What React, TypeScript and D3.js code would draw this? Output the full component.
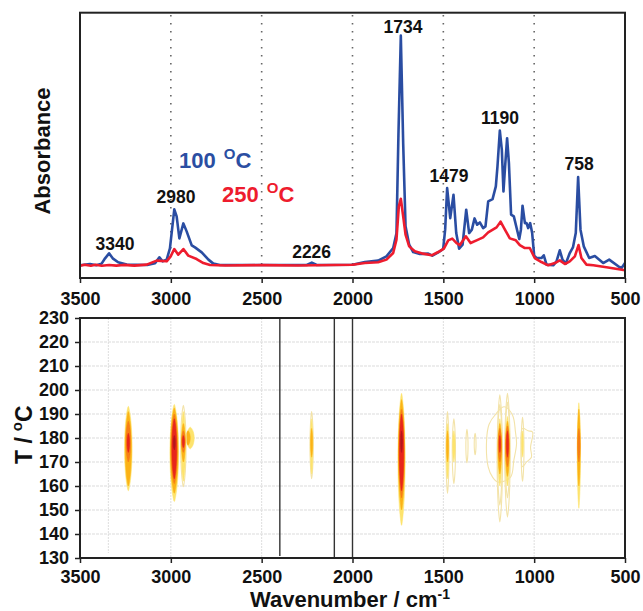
import React, { useEffect, useRef } from "react";
import * as d3 from "d3";

// spectra: [wavenumber, absorbance above baseline]
const spectrum100: [number, number][] = [
  [3500, 0], [3445, 0.013], [3410, 0], [3381, 0.017], [3362, 0.07], [3340, 0.12], [3320, 0.07], [3290, 0.03],
  [3243, 0.007], [3130, 0.003], [3087, 0.02], [3063, 0.08], [3045, 0.04], [3023, 0.055], [3005, 0.17], [2981, 0.56],
  [2968, 0.49], [2953, 0.27], [2931, 0.42], [2913, 0.34], [2885, 0.2], [2867, 0.18], [2830, 0.13], [2793, 0.057],
  [2766, 0.017], [2730, 0.003], [2252, 0.003], [2224, 0.027], [2197, 0.003], [2000, 0.005], [1932, 0.033],
  [1859, 0.047], [1813, 0.09], [1776, 0.173], [1758, 0.32], [1747, 1.32], [1734, 2.3], [1721, 1.22], [1708, 0.39],
  [1688, 0.207], [1666, 0.133], [1629, 0.113], [1583, 0.117], [1560, 0.097], [1528, 0.13], [1501, 0.163],
  [1490, 0.357], [1479, 0.773], [1462, 0.473], [1444, 0.707], [1429, 0.323], [1413, 0.167], [1394, 0.207],
  [1374, 0.557], [1358, 0.323], [1343, 0.357], [1328, 0.47], [1314, 0.407], [1299, 0.43], [1281, 0.373],
  [1268, 0.39], [1253, 0.64], [1229, 0.663], [1211, 0.79], [1202, 0.99], [1189, 1.35], [1178, 1.157], [1169, 0.74],
  [1160, 0.99], [1149, 1.273], [1139, 1.023], [1127, 0.507], [1112, 0.49], [1082, 0.263], [1073, 0.357],
  [1064, 0.597], [1051, 0.423], [1042, 0.423], [1033, 0.373], [1022, 0.423], [1011, 0.323], [1000, 0.097],
  [987, 0.073], [960, 0.073], [947, 0.1], [932, 0.007], [895, 0], [877, 0.04], [859, 0.15], [844, 0.057],
  [826, 0.017], [804, 0.123], [786, 0.183], [771, 0.323], [758, 0.883], [745, 0.357], [727, 0.19], [697, 0.073],
  [666, 0.093], [620, 0.023], [587, 0.057], [537, -0.01], [519, -0.027], [500, 0.023],
];

const spectrum250: [number, number][] = [
  [3500, -0.005], [3475, 0.006], [3440, -0.004], [3415, 0.005], [3380, -0.005], [3340, 0.004], [3300, -0.003],
  [3260, 0.004], [3200, -0.003], [3133, 0.007], [3078, 0.047],
  [3023, 0.04], [3001, 0.09], [2981, 0.163], [2959, 0.107], [2931, 0.163], [2904, 0.097], [2858, 0.063],
  [2821, 0.023], [2784, 0.003], [2700, -0.002], [2500, 0.002], [2300, -0.002], [2000, 0.005], [1932, 0.023], [1859, 0.03], [1813, 0.057], [1776, 0.123],
  [1758, 0.257], [1745, 0.59], [1734, 0.667], [1721, 0.49], [1708, 0.307], [1688, 0.19], [1657, 0.14], [1611, 0.117],
  [1565, 0.1], [1528, 0.133], [1497, 0.167], [1473, 0.25], [1451, 0.267], [1427, 0.223], [1409, 0.203], [1376, 0.29],
  [1350, 0.223], [1317, 0.25], [1281, 0.28], [1253, 0.33], [1207, 0.38], [1185, 0.437], [1161, 0.357], [1134, 0.27],
  [1101, 0.25], [1079, 0.203], [1051, 0.173], [1024, 0.173], [997, 0.073], [960, 0.033], [923, 0], [886, 0.023],
  [859, 0.05], [831, 0.013], [804, 0.04], [776, 0.09], [756, 0.203], [740, 0.073], [712, 0.007], [675, 0],
  [602, -0.02], [500, -0.05],
];

const wavenumberTicks = [3500, 3000, 2500, 2000, 1500, 1000, 500];
const tempTicks = [130, 140, 150, 160, 170, 180, 190, 200, 210, 220, 230];
const dottedLines = [3000, 2500, 2000, 1500, 1000];
const lightVerticals = [3344, 3000, 2500, 1500, 1000];
const blackVerticals = [2400, 2100, 2000];

const peakLabels: [string, number, number][] = [
  ["3340", 3307, 0.157], ["2980", 2972, 0.627], ["2226", 2225, 0.077], ["1734", 1722, 2.327],
  ["1479", 1469, 0.837], ["1190", 1188, 1.417], ["758", 753, 0.957],
];

// contour bands: [wavenumber, T low, T high, half width, level]
const contourBands: [number, number, number, number, number][] = [
  // 3234
  [3234, 158, 193.2, 21, 1], [3234, 160, 191, 17, 2], [3234, 170, 187, 13, 3], [3234, 174, 182, 7, 4],
  // 2981
  [2981, 153.5, 194, 24, 1], [2981, 157, 192.5, 21, 2], [2981, 161, 190, 17, 3], [2981, 163, 188, 13, 4], [2981, 175, 181, 6, 5],
  // 2895 shoulder
  [2893, 175.5, 184.5, 22, 1], [2905, 177, 183, 12, 2],
  // 2931
  [2931, 159.7, 193.6, 15, 0], [2931, 162, 191, 12, 1], [2931, 170, 186, 11, 2], [2931, 174, 183, 10, 3], [2931, 176, 181, 6, 4],
  // 2225
  [2225, 163, 191, 9, 0], [2225, 165, 188, 7, 1], [2225, 172, 184, 6, 2],
  // 1730
  [1730, 143.6, 198.6, 20, 1], [1730, 150, 196, 17, 2], [1730, 155, 192, 15, 3], [1730, 158, 190, 12, 4], [1730, 174, 183, 5, 5],
  // 1477
  [1477, 157, 191, 8, 0], [1477, 163, 186, 7, 1], [1477, 170, 183, 6, 2],
  // 1442
  [1442, 161, 188, 9, 0], [1442, 170, 183, 7, 1],
  [1370, 169.7, 183.6, 6, 0], [1325, 173, 182, 5, 0],
  // 1189
  [1189, 145, 198, 15, 0], [1189, 152, 194, 13, 0], [1189, 160, 188, 11, 1], [1189, 165, 186, 10, 2], [1189, 170, 184, 9, 3], [1189, 174, 181, 4, 4],
  // 1147
  [1147, 147, 198.6, 15, 0], [1147, 155, 195, 13, 0], [1147, 160, 189, 12, 1], [1147, 164, 187, 11, 2], [1147, 168, 185, 10, 3], [1147, 172, 183, 6, 4],
  // 1064
  [1064, 162, 188.6, 8, 0], [1064, 172, 183, 5, 1],
  // 754
  [754, 150.7, 194.7, 9, 1], [754, 160, 192, 8, 2], [754, 170, 184, 7, 3],
];

// irregular outlines around the fingerprint peaks
const envelope1180: [number, number][] = [
  [1211, 190], [1248, 185.7], [1262, 179], [1253, 168], [1229, 163.7], [1198, 161.6], [1130, 163.7], [1112, 170.7],
  [1097, 177.6], [1103, 182.5], [1119, 189.5], [1165, 193],
];
const envelope1035: [number, number][] = [
  [1064, 184], [1033, 183], [1009, 182.5], [1020, 176], [1015, 172], [1042, 170], [1064, 168], [1072, 176],
];

const levelColors = ["#f3e3a8", "#fde36c", "#fbb217", "#f67d12", "#e7261b", "#b4151b"];

const FONT = "'Liberation Sans', Arial, sans-serif";
const W = 643;
const H = 611;
const left = 80;
const right = 625;

function drawAxisText(g: d3.Selection<SVGGElement, unknown, null, undefined>) {
  g.selectAll("text").attr("font-family", FONT).attr("font-size", 18).attr("font-weight", "bold").attr("fill", "#111");
  g.selectAll("line").attr("stroke", "#222").attr("stroke-width", 1.5);
  g.select(".domain").remove();
}

function addDegreeLabel(svg: any, x: number, y: number, value: string, color: string) {
  const t = svg.append("text").attr("x", x).attr("y", y)
    .attr("font-family", FONT).attr("font-weight", "bold").attr("font-size", 22).attr("fill", color);
  t.append("tspan").text(value);
  t.append("tspan").attr("font-size", 15).attr("dx", 8).attr("dy", -9).text("O");
  t.append("tspan").attr("dy", 9).text("C");
}

export default function App() {
  const ref = useRef<SVGSVGElement>(null);

  useEffect(() => {
    const svg = d3.select(ref.current);
    svg.selectAll("*").remove();

    const x = d3.scaleLinear().domain([3500, 500]).range([left, right]);
    const yA = d3.scaleLinear().domain([-0.127, 2.53]).range([278, 12.7]);
    const yT = d3.scaleLinear().domain([130, 230]).range([558, 318]);

    const defs = svg.append("defs");
    defs.append("filter").attr("id", "soft").append("feGaussianBlur").attr("stdDeviation", 0.45);

    // top panel
    svg.append("g").selectAll("line").data(dottedLines).join("line")
      .attr("x1", d => x(d)).attr("x2", d => x(d)).attr("y1", 15).attr("y2", 278)
      .attr("stroke", "#666").attr("stroke-width", 1.6).attr("stroke-dasharray", "1.6 6.4");

    const line = d3.line<[number, number]>().x(d => x(d[0])).y(d => yA(d[1]));
    const spectra = svg.append("g").attr("filter", "url(#soft)");
    spectra.append("path").datum(spectrum100).attr("d", line).attr("fill", "none")
      .attr("stroke", "#2b4ea2").attr("stroke-width", 2.6).attr("stroke-linejoin", "round");
    spectra.append("path").datum(spectrum250).attr("d", line).attr("fill", "none")
      .attr("stroke", "#ee1c2e").attr("stroke-width", 2.6).attr("stroke-linejoin", "round");

    svg.append("rect").attr("x", left).attr("y", 12.7).attr("width", right - left).attr("height", 265.3)
      .attr("fill", "none").attr("stroke", "#222").attr("stroke-width", 2);

    svg.append("g").attr("transform", "translate(0,278)")
      .call(d3.axisBottom(x).tickValues(wavenumberTicks).tickFormat(d3.format("d")).tickSize(5).tickPadding(9))
      .call(drawAxisText);

    svg.append("g").selectAll("text").data(peakLabels).join("text")
      .attr("x", d => x(d[1])).attr("y", d => yA(d[2])).attr("text-anchor", "middle")
      .attr("font-family", FONT).attr("font-weight", "bold").attr("font-size", 17.5).attr("fill", "#111")
      .text(d => d[0]);

    addDegreeLabel(svg, 179, 168, "100", "#2b4ea2");
    addDegreeLabel(svg, 222, 202, "250", "#ee1c2e");

    svg.append("text").attr("transform", "translate(50,151) rotate(-90)").attr("text-anchor", "middle")
      .attr("font-family", FONT).attr("font-weight", "bold").attr("font-size", 22).attr("fill", "#111")
      .text("Absorbance");

    // bottom panel
    const grid = svg.append("g");
    grid.selectAll("line.h").data(tempTicks.slice(1, -1)).join("line").attr("class", "h")
      .attr("x1", left).attr("x2", right).attr("y1", d => yT(d)).attr("y2", d => yT(d))
      .attr("stroke", "#dcdcdc").attr("stroke-width", 1.2).attr("stroke-dasharray", "3 1");
    grid.selectAll("line.v").data(lightVerticals).join("line").attr("class", "v")
      .attr("x1", d => x(d)).attr("x2", d => x(d)).attr("y1", 318).attr("y2", d => (d > 3300 ? 553 : 558))
      .attr("stroke", "#dedede").attr("stroke-width", 1).attr("stroke-dasharray", "2 1");

    const closed = d3.line<[number, number]>().x(d => x(d[0])).y(d => yT(d[1])).curve(d3.curveCatmullRomClosed.alpha(0.5));
    const lens = (b: [number, number, number, number, number]): [number, number][] => {
      const [wn, lo, hi, hw] = b;
      const mid = (lo + hi) / 2;
      const q = (hi - lo) / 4;
      const e = (hi - lo) * 0.42;
      return [
        [wn, hi], [wn - hw * 0.42, mid + e], [wn - hw * 0.82, mid + q], [wn - hw, mid], [wn - hw * 0.82, mid - q], [wn - hw * 0.42, mid - e],
        [wn, lo], [wn + hw * 0.42, mid - e], [wn + hw * 0.82, mid - q], [wn + hw, mid], [wn + hw * 0.82, mid + q], [wn + hw * 0.42, mid + e],
      ];
    };

    const marks = svg.append("g").attr("filter", "url(#soft)");
    [envelope1180, envelope1035].forEach(pts => {
      marks.append("path").datum(pts).attr("d", closed).attr("fill", "none")
        .attr("stroke", levelColors[0]).attr("stroke-width", 1.1);
    });
    marks.selectAll("path.band").data(contourBands).join("path").attr("class", "band")
      .attr("d", d => closed(lens(d)))
      .attr("fill", d => (d[4] === 0 ? "none" : levelColors[d[4]]))
      .attr("stroke", d => levelColors[d[4]])
      .attr("stroke-width", d => (d[4] === 0 ? 1.1 : 0.5));

    svg.append("g").selectAll("line").data(blackVerticals).join("line")
      .attr("x1", d => x(d)).attr("x2", d => x(d)).attr("y1", 318).attr("y2", d => (d === 2400 ? 556 : 558))
      .attr("stroke", "#333").attr("stroke-width", 1.4);

    svg.append("rect").attr("x", left).attr("y", 318).attr("width", right - left).attr("height", 240)
      .attr("fill", "none").attr("stroke", "#222").attr("stroke-width", 2);

    svg.append("g").attr("transform", "translate(0,558)")
      .call(d3.axisBottom(x).tickValues(wavenumberTicks).tickFormat(d3.format("d")).tickSize(5).tickPadding(7))
      .call(drawAxisText);
    svg.append("g").attr("transform", `translate(${left},0)`)
      .call(d3.axisLeft(yT).tickValues(tempTicks).tickFormat(d3.format("d")).tickSize(5).tickPadding(6))
      .call(drawAxisText);

    const tTitle = svg.append("text").attr("transform", "translate(32,464) rotate(-90)")
      .attr("font-family", FONT).attr("font-weight", "bold").attr("font-size", 23).attr("fill", "#111");
    tTitle.append("tspan").text("T /");
    tTitle.append("tspan").attr("font-size", 15).attr("dx", 6).attr("dy", -10).text("o");
    tTitle.append("tspan").attr("dy", 10).text("C");

    const xTitle = svg.append("text").attr("x", 350).attr("y", 607).attr("text-anchor", "middle")
      .attr("font-family", FONT).attr("font-weight", "bold").attr("font-size", 22).attr("fill", "#111");
    xTitle.append("tspan").text("Wavenumber / cm");
    xTitle.append("tspan").attr("font-size", 14).attr("dy", -8).text("-1");
  }, []);

  return (
    <svg ref={ref} width={W} height={H} viewBox={`0 0 ${W} ${H}`}
      style={{ position: "absolute", left: 0, top: 0, background: "#fff" }} />
  );
}
